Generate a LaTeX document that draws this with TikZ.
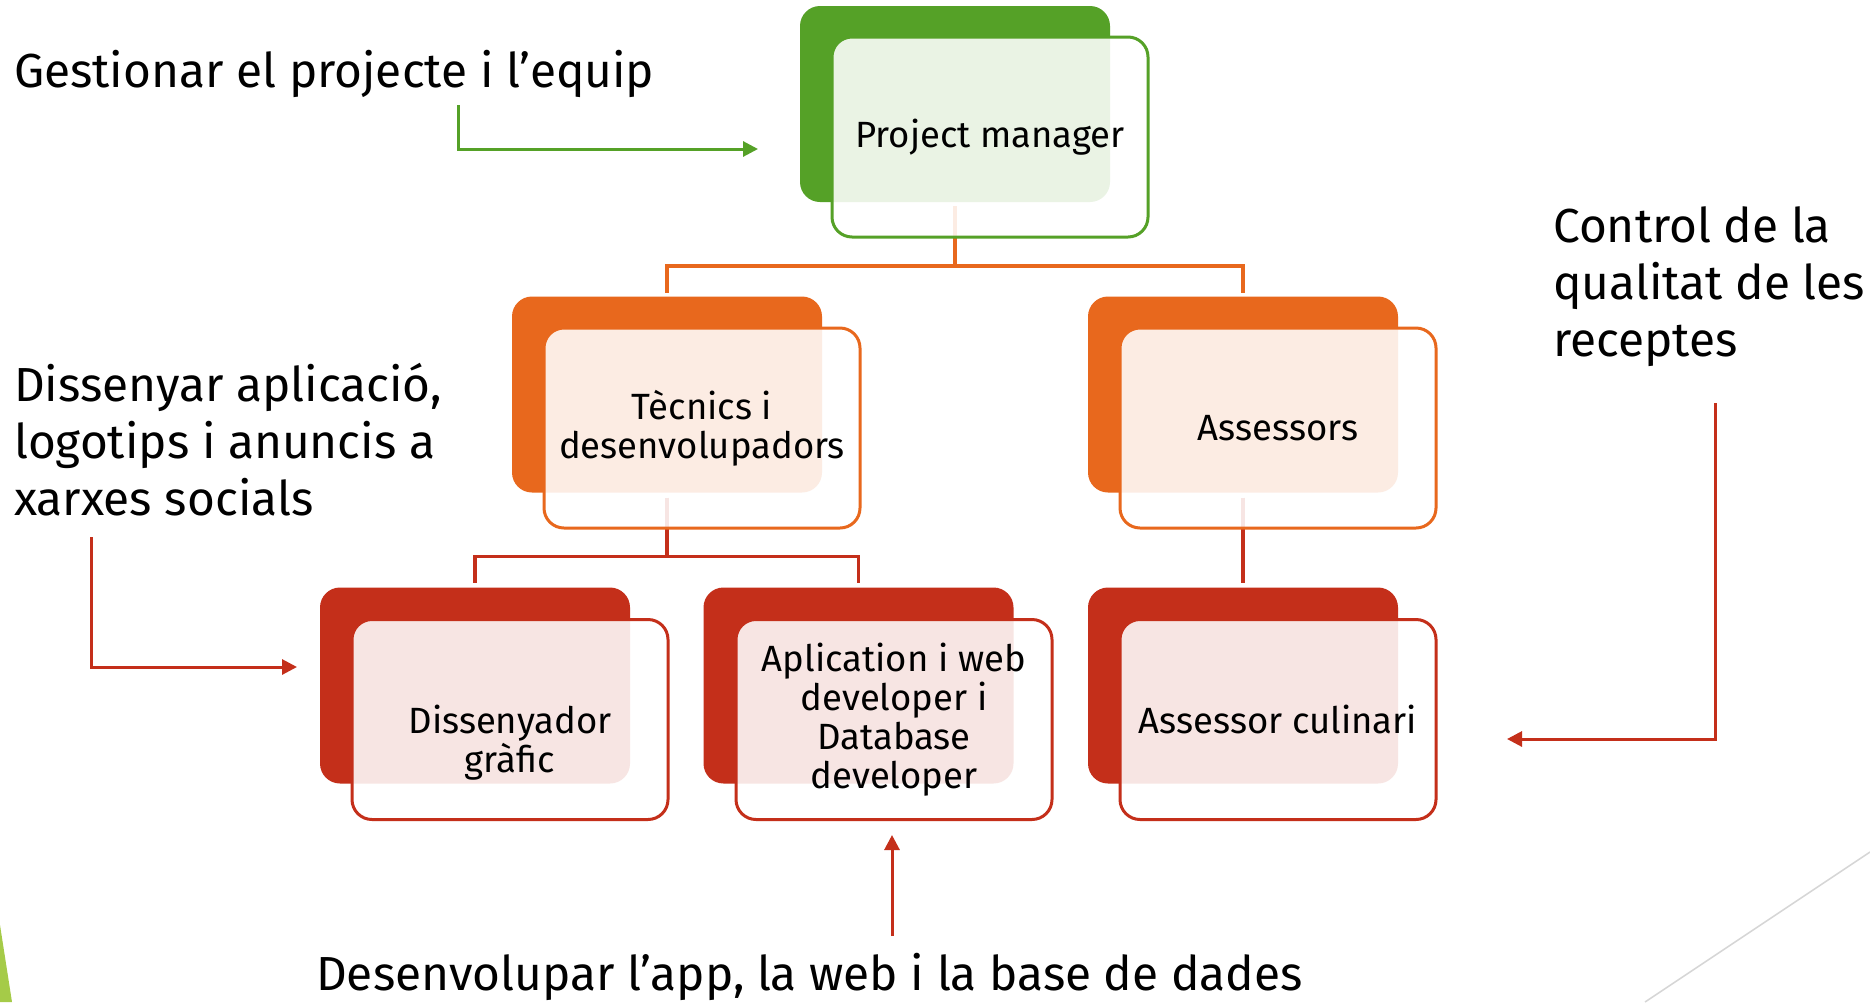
\documentclass[tikz,border=0pt]{standalone}
\usepackage{fontspec}
\setmainfont{Fira Sans}
\usetikzlibrary{arrows.meta}
\definecolor{cgreen}{HTML}{55A127}
\definecolor{corange}{HTML}{E8681D}
\definecolor{cred}{HTML}{C42F1A}
\definecolor{ctri}{HTML}{A5CB48}
\definecolor{cgray}{HTML}{D6D6D6}
\begin{document}
\begin{tikzpicture}[x=1pt,y=-1pt,
  backbox/.style={fill=#1, draw=none, rounded corners=20pt, minimum width=310pt, minimum height=196pt, inner sep=0pt, outer sep=0pt},
  frontbox/.style={draw=#1, line width=3pt, fill=white, fill opacity=0.88, text opacity=1, rounded corners=20pt,
     minimum width=316pt, minimum height=200pt, inner sep=0pt, outer sep=0pt, align=center,
     font=\fontsize{36.5}{39}\selectfont},
  boxtext/.style={inner sep=0pt, align=center, font=\fontsize{36.5}{39}\selectfont},
  conn/.style={draw=#1, line width=3.3pt},
  callout/.style={draw=#1, line width=3pt, -{Triangle[length=15pt,width=15pt]}},
  bigtext/.style={anchor=base west, inner sep=0pt, align=left, font=\fontsize{47.8}{57}\selectfont},
]
\useasboundingbox (0,0) rectangle (1870,1002);
\fill[white] (0,0) rectangle (1870,1002);

% decorations
\fill[ctri] (0,925) -- (12,1002) -- (0,1002) -- cycle;
\draw[cgray, line width=1.5pt] (1645,1002) -- (1870,852);

% back boxes
\node[backbox=cgreen]  (pmB)  at (955,104) {};
\node[backbox=corange] (tecB) at (667,394.5) {};
\node[backbox=corange] (asB)  at (1243,394.5) {};
\node[backbox=cred]    (disB) at (475,685.5) {};
\node[backbox=cred]    (apB)  at (858.5,685.5) {};
\node[backbox=cred]    (culB) at (1243,685.5) {};

% connectors
\draw[conn=corange] (pmB.south) ++(0,4) -- ++(0,60) -| ([yshift=4pt]tecB.north);
\draw[conn=corange] (pmB.south) ++(0,64) -| ([yshift=4pt]asB.north);
\draw[conn=cred] (tecB.south) ++(0,5) -- ++(0,59) -| ([yshift=5pt]disB.north);
\draw[conn=cred] (tecB.south) ++(0,64) -| ([yshift=5pt]apB.north);
\draw[conn=cred] (asB.south) ++(0,5) -- ([yshift=5pt]culB.north);

% front boxes
\node[frontbox=cgreen]  (pmF)  at (990,137) {Project manager};
\node[frontbox=corange] (tecF) at (702,428) {Tècnics i\\desenvolupadors};
\node[frontbox=corange] (asF)  at (1278,428) {Assessors};
\node[frontbox=cred]    (disF) at (510,719.5) {};
\node[boxtext]          (disT) at (510,743) {Dissenyador\\gràfic};
\node[frontbox=cred]    (apF)  at (894,719.5) {Aplication i web\\developer i\\Database\\developer};
\node[frontbox=cred]    (culF) at (1278,719.5) {Assessor culinari};

% side texts
\node[bigtext] (t1) at (14,87) {Gestionar el projecte i l’equip};
\node[bigtext] (t2) at (14,515) {Dissenyar aplicació,\\logotips i anuncis a\\xarxes socials};
\node[bigtext] (t3) at (1553,356) {Control de la\\qualitat de les\\receptes};
\node[bigtext] (t4) at (316,990) {Desenvolupar l’app, la web i la base de dades};

% callout arrows
\coordinate (gA) at (458,105);  \coordinate (gB) at (758,149);
\coordinate (lA) at (91,537);   \coordinate (lB) at (297,667);
\coordinate (bA) at (892,936);  \coordinate (bB) at (892,835);
\coordinate (rA) at (1715,403); \coordinate (rB) at (1507,739);
\draw[callout=cgreen] (gA) |- (gB);
\draw[callout=cred] (lA) |- (lB);
\draw[callout=cred] (bA) -- (bB);
\draw[callout=cred] (rA) |- (rB);
\end{tikzpicture}
\end{document}
